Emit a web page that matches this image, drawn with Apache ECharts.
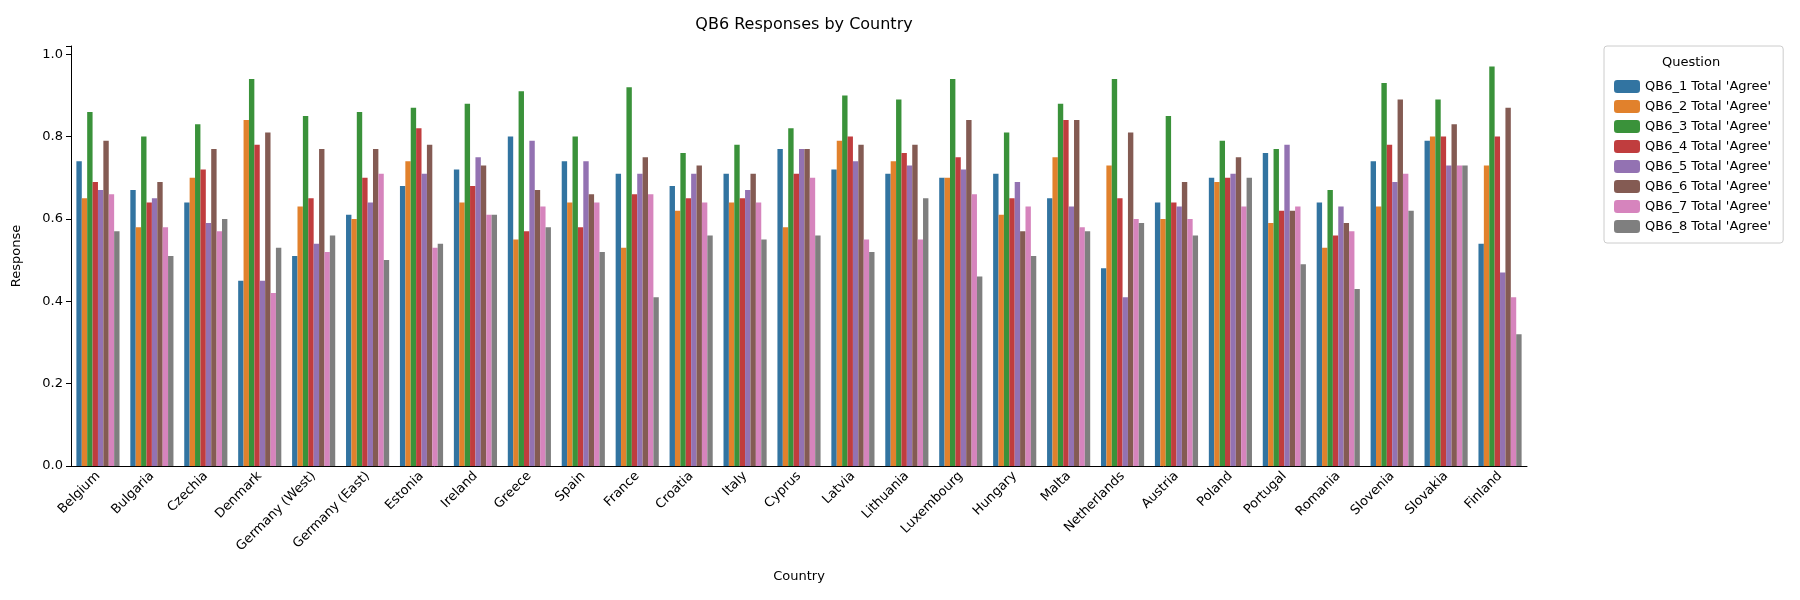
<!DOCTYPE html>
<html>
<head>
<meta charset="utf-8">
<script src="https://cdn.jsdelivr.net/npm/echarts@6/dist/echarts.min.js"></script>
<style>
  body { margin: 0; background: #fff; }
  #chart { width: 1800px; height: 600px; }
</style>
</head>
<body>
<div id="chart"></div>
<script>
const countries = ['Belgium', 'Bulgaria', 'Czechia', 'Denmark', 'Germany (West)', 'Germany (East)', 'Estonia', 'Ireland', 'Greece', 'Spain', 'France', 'Croatia', 'Italy', 'Cyprus', 'Latvia', 'Lithuania', 'Luxembourg', 'Hungary', 'Malta', 'Netherlands', 'Austria', 'Poland', 'Portugal', 'Romania', 'Slovenia', 'Slovakia', 'Finland'];
const questions = ["QB6_1 Total 'Agree'", "QB6_2 Total 'Agree'", "QB6_3 Total 'Agree'", "QB6_4 Total 'Agree'", "QB6_5 Total 'Agree'", "QB6_6 Total 'Agree'", "QB6_7 Total 'Agree'", "QB6_8 Total 'Agree'"];
const colors = ['#3274a1', '#e1812c', '#3a923a', '#c03d3e', '#9372b2', '#845b53', '#d684bd', '#7f7f7f'];

const qb6_1 = [0.74, 0.67, 0.64, 0.45, 0.51, 0.61, 0.68, 0.72, 0.80, 0.74, 0.71, 0.68, 0.71, 0.77, 0.72, 0.71, 0.70, 0.71, 0.65, 0.48, 0.64, 0.70, 0.76, 0.64, 0.74, 0.79, 0.54];
const qb6_2 = [0.65, 0.58, 0.70, 0.84, 0.63, 0.60, 0.74, 0.64, 0.55, 0.64, 0.53, 0.62, 0.64, 0.58, 0.79, 0.74, 0.70, 0.61, 0.75, 0.73, 0.60, 0.69, 0.59, 0.53, 0.63, 0.80, 0.73];
const qb6_3 = [0.86, 0.80, 0.83, 0.94, 0.85, 0.86, 0.87, 0.88, 0.91, 0.80, 0.92, 0.76, 0.78, 0.82, 0.90, 0.89, 0.94, 0.81, 0.88, 0.94, 0.85, 0.79, 0.77, 0.67, 0.93, 0.89, 0.97];
const qb6_4 = [0.69, 0.64, 0.72, 0.78, 0.65, 0.70, 0.82, 0.68, 0.57, 0.58, 0.66, 0.65, 0.65, 0.71, 0.80, 0.76, 0.75, 0.65, 0.84, 0.65, 0.64, 0.70, 0.62, 0.56, 0.78, 0.80, 0.80];
const qb6_5 = [0.67, 0.65, 0.59, 0.45, 0.54, 0.64, 0.71, 0.75, 0.79, 0.74, 0.71, 0.71, 0.67, 0.77, 0.74, 0.73, 0.72, 0.69, 0.63, 0.41, 0.63, 0.71, 0.78, 0.63, 0.69, 0.73, 0.47];
const qb6_6 = [0.79, 0.69, 0.77, 0.81, 0.77, 0.77, 0.78, 0.73, 0.67, 0.66, 0.75, 0.73, 0.71, 0.77, 0.78, 0.78, 0.84, 0.57, 0.84, 0.81, 0.69, 0.75, 0.62, 0.59, 0.89, 0.83, 0.87];
const qb6_7 = [0.66, 0.58, 0.57, 0.42, 0.52, 0.71, 0.53, 0.61, 0.63, 0.64, 0.66, 0.64, 0.64, 0.70, 0.55, 0.55, 0.66, 0.63, 0.58, 0.60, 0.60, 0.63, 0.63, 0.57, 0.71, 0.73, 0.41];
const qb6_8 = [0.57, 0.51, 0.60, 0.53, 0.56, 0.50, 0.54, 0.61, 0.58, 0.52, 0.41, 0.56, 0.55, 0.56, 0.52, 0.65, 0.46, 0.51, 0.57, 0.59, 0.56, 0.70, 0.49, 0.43, 0.62, 0.73, 0.32];
const seriesValues = [qb6_1, qb6_2, qb6_3, qb6_4, qb6_5, qb6_6, qb6_7, qb6_8];

const chart = echarts.init(document.getElementById('chart'));
const font = 'DejaVu Sans';
chart.setOption({
  animation: false,
  textStyle: { fontFamily: font },
  color: colors,
  title: {
    text: 'QB6 Responses by Country',
    left: 799, top: 12, textAlign: 'center',
    textStyle: { fontSize: 16, fontWeight: 'normal', color: '#000', fontFamily: font }
  },
  grid: { left: 71, right: 273, top: 46, bottom: 134, containLabel: false },
  legend: {
    orient: 'vertical',
    left: 1604, top: 46,
    width: 184,
    padding: [34, 12, 10, 10],
    itemGap: 7,
    itemWidth: 26, itemHeight: 13,
    borderColor: '#ccc', borderWidth: 1, borderRadius: 3,
    textStyle: { fontSize: 13, color: '#000', fontFamily: font },
    data: questions
  },
  graphic: [{
    type: 'text', left: 1662, top: 56,
    style: { text: 'Question', fontSize: 13, fill: '#000', fontFamily: font }
  }],
  xAxis: {
    type: 'category',
    data: countries,
    name: 'Country', nameLocation: 'middle', nameGap: 104,
    nameTextStyle: { fontSize: 13, color: '#000' },
    axisLine: { lineStyle: { color: '#000' } },
    axisTick: { alignWithLabel: true, lineStyle: { color: '#000' } },
    axisLabel: { rotate: 45, fontSize: 13, color: '#000', interval: 0, margin: 8 }
  },
  yAxis: {
    type: 'value', min: 0, max: 1.02, interval: 0.2,
    name: 'Response', nameLocation: 'middle', nameGap: 48,
    nameTextStyle: { fontSize: 13, color: '#000' },
    splitLine: { show: false },
    axisLine: { show: true, lineStyle: { color: '#000' } },
    axisTick: { show: true, lineStyle: { color: '#000' } },
    axisLabel: {
      fontSize: 13, color: '#000',
      formatter: v => (v > 1.01 ? '' : v.toFixed(1))
    }
  },
  series: seriesValues.map((vals, i) => ({
    name: questions[i],
    type: 'bar',
    data: vals,
    barGap: '0%',
    barCategoryGap: '20%'
  }))
});
</script>
</body>
</html>
